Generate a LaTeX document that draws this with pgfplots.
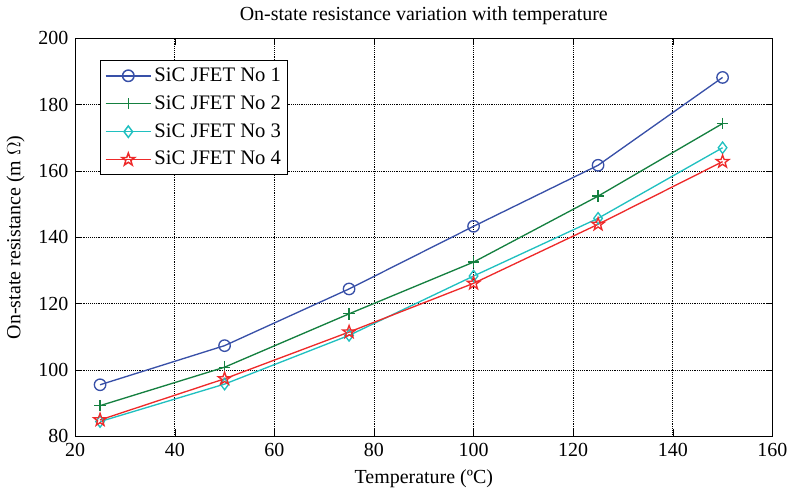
\documentclass[border=0pt]{standalone}
\usepackage{pgfplots}
\pgfplotsset{compat=1.18}
\usepackage{fontspec}
\setmainfont{Liberation Serif}
\definecolor{c1}{HTML}{3850A8}
\definecolor{c2}{HTML}{158040}
\definecolor{c3}{HTML}{20C0C0}
\definecolor{c4}{HTML}{EE2A2A}
% MATLAB-like pentagram outline
\pgfdeclareplotmark{pentagram}{%
  \pgfpathmoveto{\pgfpointpolar{90}{\pgfplotmarksize}}%
  \pgfpathlineto{\pgfpointpolar{126}{0.4\pgfplotmarksize}}%
  \pgfpathlineto{\pgfpointpolar{162}{\pgfplotmarksize}}%
  \pgfpathlineto{\pgfpointpolar{198}{0.4\pgfplotmarksize}}%
  \pgfpathlineto{\pgfpointpolar{234}{\pgfplotmarksize}}%
  \pgfpathlineto{\pgfpointpolar{270}{0.4\pgfplotmarksize}}%
  \pgfpathlineto{\pgfpointpolar{306}{\pgfplotmarksize}}%
  \pgfpathlineto{\pgfpointpolar{342}{0.4\pgfplotmarksize}}%
  \pgfpathlineto{\pgfpointpolar{18}{\pgfplotmarksize}}%
  \pgfpathlineto{\pgfpointpolar{54}{0.4\pgfplotmarksize}}%
  \pgfpathclose
  \pgfusepathqstroke}
\begin{document}
\fontsize{15pt}{17pt}\selectfont
\begin{tikzpicture}
\begin{axis}[
  scale only axis,
  width=524pt, height=299pt,
  xmin=20, xmax=160, ymin=80, ymax=200,
  xtick={20,40,...,160}, ytick={80,100,...,200},
  grid=major,
  major grid style={black, densely dotted, line width=0.5pt},
  axis line style={black, line width=0.9pt},
  tick align=inside, tick style={black},
  major tick length=5pt,
  /pgf/number format/assume math mode=true,
  ticklabel style={font=\fontsize{15pt}{17pt}\selectfont},
  title={On-state resistance variation with temperature},
  title style={font=\fontsize{15pt}{17pt}\selectfont, yshift=-1pt},
  xlabel={Temperature (ºC)},
  ylabel={On-state resistance (m $\Omega$)},
  label style={font=\fontsize{15pt}{17pt}\selectfont},
  legend style={at={(0.036,0.945)}, anchor=north west, draw=black, line width=0.9pt,
    font=\fontsize{15.5pt}{18pt}\selectfont, row sep=4.5pt, inner sep=3pt},
  legend cell align=left,
  legend image code/.code={%
    \draw[line width=1.1pt, mark repeat=2, mark phase=2] plot coordinates {(0cm,0cm) (0.6cm,0cm) (1.2cm,0cm)};},
  every axis plot/.append style={line width=1pt, mark size=4.3pt},
]
\addplot[c1, mark=o] coordinates {(25,95.5) (50,107.3) (75,124.4) (100,143.3) (125,161.7) (150,188.2)};
\addplot[c2, mark=+] coordinates {(25,89.2) (50,100.8) (75,116.9) (100,132.5) (125,152.4) (150,174.3)};
\addplot[c3, mark=diamond] coordinates {(25,84.4) (50,95.7) (75,110.4) (100,128.3) (125,145.7) (150,167.0)};
\addplot[c4, mark=pentagram, mark options={mark size=5pt}] coordinates {(25,84.9) (50,97.3) (75,111.4) (100,126.1) (125,143.9) (150,162.8)};
\legend{SiC JFET No 1\hspace{10pt}, SiC JFET No 2\hspace{10pt}, SiC JFET No 3\hspace{10pt}, SiC JFET No 4\hspace{10pt}}
\end{axis}
\end{tikzpicture}
\end{document}
